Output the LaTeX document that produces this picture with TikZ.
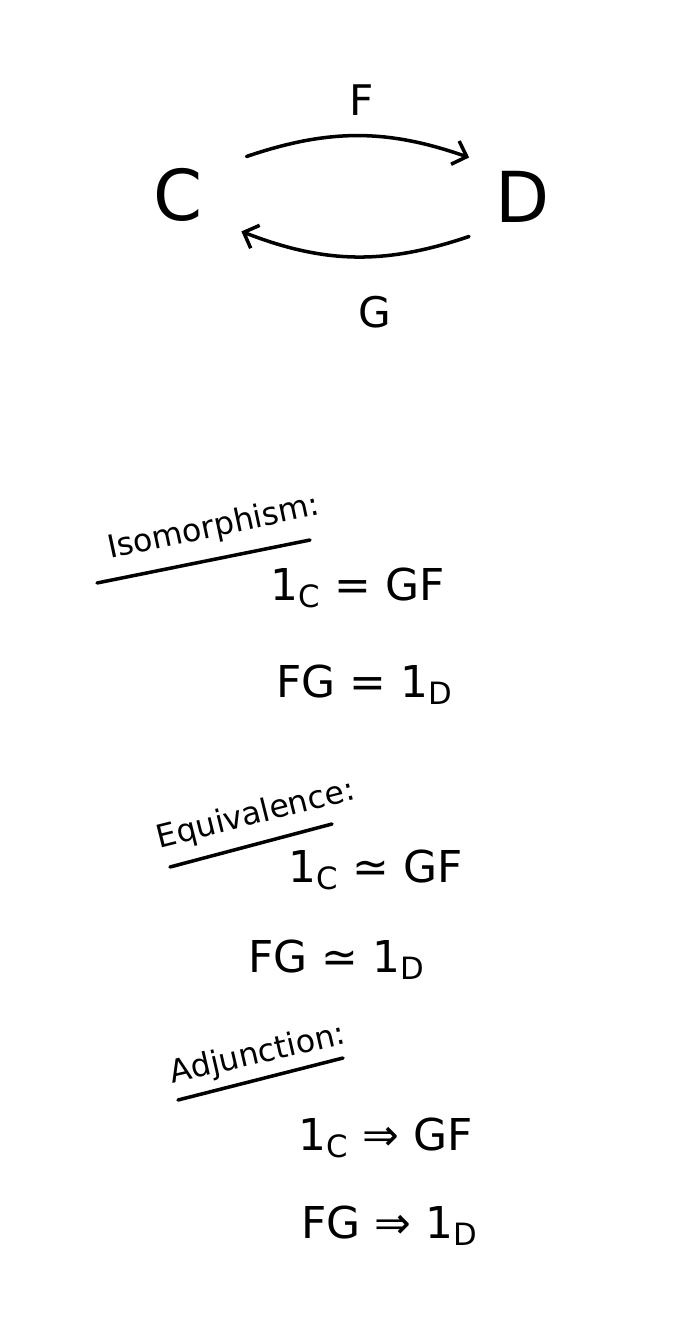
\documentclass[tikz,border=0pt]{standalone}
\usepackage{fontspec}
\setmainfont{DejaVu Sans}
\usetikzlibrary{arrows.meta}

\newcommand{\unitof}[1]{1\textsubscript{#1}}

\tikzset{
  object/.style={font=\fontsize{40}{44}\selectfont, inner sep=2pt},
  fname/.style={font=\fontsize{24}{28}\selectfont},
  functor/.style={line width=2pt, line cap=round, -{Straight Barb[length=7pt, width=14pt, line width=2pt]}},
  heading/.style={font=\fontsize{18}{22}\selectfont},
  underline/.style={line width=2pt, line cap=round},
  eqn/.style={font=\fontsize{25}{30}\selectfont, anchor=base west},
}

\begin{document}
\begin{tikzpicture}[x=0.02cm, y=-0.02cm]
        \useasboundingbox (0,0) rectangle (698,1327);

        % Categories
        \node[object] (C) at (178,195) {C};
        \node[object] (D) at (523,197) {D};

        % Functors
        \draw[functor] ([shift={(40,-8)}]C.north east) to[bend left=19] ([shift={(-23,-10)}]D.north west);
        \draw[functor] ([shift={(-23,10)}]D.south west) to[bend left=20] ([shift={(35,6)}]C.south east);
        \node[fname] (F) at (362,100) {F};
        \node[fname] (G) at (375,312) {G};

        % Isomorphism
        \node[heading, rotate=12] (iso) at (214,528) {Isomorphism:};
        \draw[underline] (97,583) -- (310,540);
        \node[eqn] (iso1) at (264,600) {\unitof{C} = GF};
        \node[eqn] (iso2) at (270,697) {FG = \unitof{D}};

        % Equivalence
        \node[heading, rotate=14] (equiv) at (256,815) {Equivalence:};
        \draw[underline] (170,867) -- (332,824);
        \node[eqn] (equiv1) at (282,882) {\unitof{C} ≃ GF};
        \node[eqn] (equiv2) at (242,972) {FG ≃ \unitof{D}};

        % Adjunction
        \node[heading, rotate=13] (adj) at (258,1055) {Adjunction:};
        \draw[underline] (178,1100) -- (343,1058);
        \node[eqn] (adj1) at (292,1150) {\unitof{C} ⇒ GF};
        \node[eqn] (adj2) at (295,1238) {FG ⇒ \unitof{D}};

\end{tikzpicture}
\end{document}
